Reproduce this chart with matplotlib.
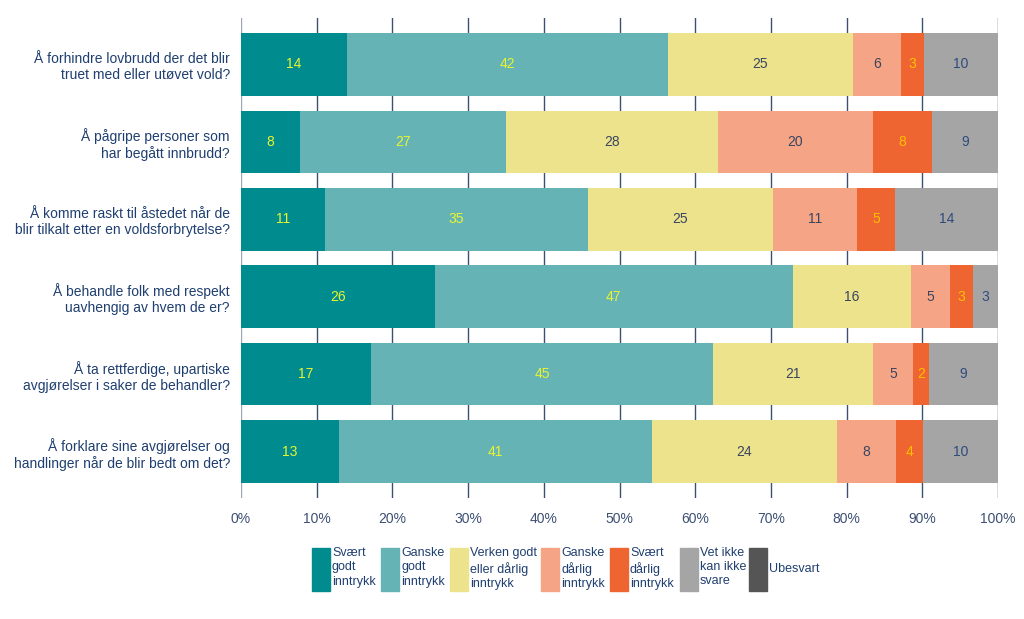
import matplotlib
matplotlib.use("Agg")
import matplotlib.pyplot as plt
from matplotlib.patches import Rectangle

plt.rcParams['font.family'] = ['Liberation Sans', 'DejaVu Sans']

questions = [
    "Å forhindre lovbrudd der det blir\ntruet med eller utøvet vold?",
    "Å pågripe personer som\nhar begått innbrudd?",
    "Å komme raskt til åstedet når de\nblir tilkalt etter en voldsforbrytelse?",
    "Å behandle folk med respekt\nuavhengig av hvem de er?",
    "Å ta rettferdige, upartiske\navgjørelser i saker de behandler?",
    "Å forklare sine avgjørelser og\nhandlinger når de blir bedt om det?",
]
categories = ["Svært\ngodt\ninntrykk", "Ganske\ngodt\ninntrykk", "Verken godt\neller dårlig\ninntrykk",
              "Ganske\ndårlig\ninntrykk", "Svært\ndårlig\ninntrykk", "Vet ikke\nkan ikke\nsvare", "Ubesvart"]

svaert_godt = [14.0, 7.8, 11.1, 25.6, 17.2, 12.9]
ganske_godt = [42.4, 27.2, 34.7, 47.3, 45.2, 41.4]
verken = [24.4, 28.0, 24.5, 15.6, 21.1, 24.4]
ganske_darlig = [6.4, 20.5, 11.1, 5.2, 5.3, 7.8]
svaert_darlig = [3.0, 7.8, 5.0, 3.0, 2.1, 3.6]
vet_ikke = [9.8, 8.7, 13.6, 3.3, 9.1, 9.9]
ubesvart = [0.0, 0.0, 0.0, 0.0, 0.0, 0.0]

labels = [
    [14, 42, 25, 6, 3, 10],
    [8, 27, 28, 20, 8, 9],
    [11, 35, 25, 11, 5, 14],
    [26, 47, 16, 5, 3, 3],
    [17, 45, 21, 5, 2, 9],
    [13, 41, 24, 8, 4, 10],
]

series = [svaert_godt, ganske_godt, verken, ganske_darlig, svaert_darlig, vet_ikke, ubesvart]
colors = ["#008B8E", "#66B3B6", "#EDE38C", "#F5A586", "#EE6532", "#A5A5A5", "#555555"]
label_colors = ["#E8F530", "#E8F530", "#3A4560", "#3A4560", "#FFC000", "#2F4B7C", "#FFFFFF"]

fig = plt.figure(figsize=(10.24, 6.19), dpi=100)
ax = fig.add_axes([241/1024, 1-498/619, 757/1024, 480/619])

ys = list(range(len(questions)))
left = [0.0]*len(questions)
for si, (vals, col) in enumerate(zip(series, colors)):
    ax.barh(ys, vals, left=left, height=0.81, color=col, zorder=3, linewidth=0)
    for i, v in enumerate(vals):
        if si < 6 and v > 0:
            ax.text(left[i] + v/2, ys[i], str(labels[i][si]), ha='center', va='center',
                    fontsize=10, color=label_colors[si], zorder=4)
    left = [l + v for l, v in zip(left, vals)]

ax.set_xlim(0, 100)
ax.set_ylim(len(questions) - 1 + 0.6, -0.6)
ax.set_xticks(range(0, 101, 10))
ax.set_xticklabels([f"{t}%" for t in range(0, 101, 10)], fontsize=10, color="#3D4F73")
ax.tick_params(axis='x', length=0, pad=10)
ax.set_yticks(ys)
ax.set_yticklabels(questions, fontsize=10, color="#1F3F70", ha='right')
ax.tick_params(axis='y', length=0, pad=8)
for s in ax.spines.values():
    s.set_visible(False)
for t in range(10, 101, 10):
    ax.axvline(t, color="#3D4F73", lw=1.0, zorder=1)
ax.axvline(0, color="#A0A8B8", lw=1.0, zorder=1)

# legend
leg_x = [312, 381, 450, 541, 610, 680, 749]
for x, col, lab in zip(leg_x, colors, categories):
    fig.patches.append(Rectangle((x/1024, 1-591/619), 18/1024, 43/619,
                                 transform=fig.transFigure, color=col, figure=fig))
    if lab == "Ubesvart":
        fig.text((x+20)/1024, 1-569/619, lab, ha='left', va='center', fontsize=9,
                 color="#1F3F70")
    else:
        fig.text((x+20)/1024, 1-547/619, lab, ha='left', va='top', fontsize=9,
                 color="#1F3F70", linespacing=1.25)

fig.savefig("out.png", dpi=100)
